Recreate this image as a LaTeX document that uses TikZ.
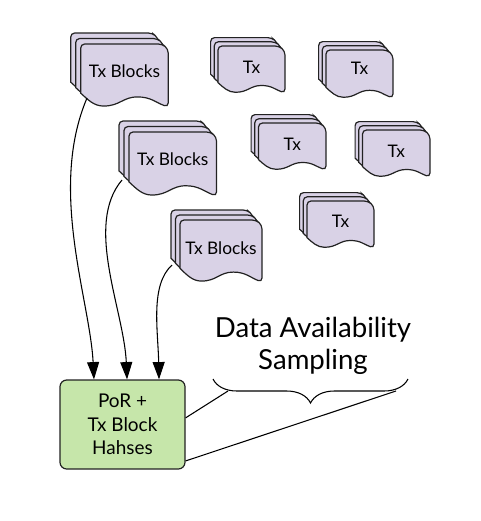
\documentclass[tikz,border=0pt]{standalone}
\usepackage{fontspec}
\setmainfont{Lato}
\usetikzlibrary{arrows.meta,decorations.pathreplacing,calc}
\definecolor{sheetfill}{HTML}{D9D2E6}
\definecolor{boxfill}{HTML}{C6E6AA}
\definecolor{linegray}{HTML}{222222}
\tikzset{
  sheet/.style={draw=linegray, fill=sheetfill, line width=0.9pt, rounded corners=3pt},
  txlabel/.style={font=\fontsize{13}{15}\selectfont, text=black, inner sep=0pt},
  feed/.style={draw=black, line width=0.8pt, -{Triangle[length=13pt,width=9pt]}},
  link/.style={draw=black, line width=0.8pt}
}
% #1 name, #2 #3 front sheet corner, #4 offset, #5 width, #6 height, #7 text, #8 text y
\newcommand{\txstack}[8]{
  \foreach \k in {2,1,0} {
    \begin{scope}[shift={(#2-\k*#4,#3-\k*#4-\k*0.5)}]
      \draw[sheet] (0,0) -- (#5-6,0) -- (#5,5) -- (#5,#6)
        [sharp corners] .. controls (#5*0.86,#6*0.93) and (#5*0.8,#6*0.84) .. (#5*0.65,#6*0.84)
        .. controls (#5*0.48,#6*0.84) and (#5*0.45,#6*0.985) .. (#5*0.26,#6*0.985)
        .. controls (#5*0.15,#6*0.985) and (#5*0.08,#6*0.88) .. (0,#6*0.78)
        [rounded corners=3pt] -- cycle;
    \end{scope}
  }
  \node[txlabel] (#1) at (#2+#5/2,#8) {#7};
}
\begin{document}
\begin{tikzpicture}[x=0.75pt,y=-0.75pt]
  \useasboundingbox (0,0) rectangle (481,521);

  \txstack{blocksa}{80.7}{44}{5}{87.5}{63}{Tx Blocks}{71}
  \txstack{blocksb}{129}{132}{5}{87.5}{64}{Tx Blocks}{159}
  \txstack{blocksc}{180}{220}{4.5}{82}{62}{Tx Blocks}{248}
  \txstack{txa}{218}{46}{3.7}{67}{47}{Tx}{67}
  \txstack{txb}{326}{50}{3.7}{67}{48}{Tx}{68}
  \txstack{txc}{258.5}{123}{3.7}{67.5}{47}{Tx}{144}
  \txstack{txd}{362.5}{130}{3.7}{67.5}{47}{Tx}{151}
  \txstack{txe}{307}{201}{3.7}{67}{47}{Tx}{221}

  \node[draw=linegray, fill=boxfill, line width=0.9pt, rounded corners=5pt, minimum width=93.75pt, minimum height=66.75pt,
    align=center, font=\fontsize{14.2}{17.6}\selectfont, inner sep=0pt] (hashbox) at (122.5,424.5) {PoR +\\Tx Block\\Hahses};

  \node[font=\fontsize{20.7}{24}\selectfont, align=center, inner sep=0pt] (dastext) at (313,346) {Data Availability\\Sampling};

  \coordinate (bracel) at (213,379);
  \coordinate (bracer) at (408,379);
  \coordinate (jointl) at (228,391);
  \coordinate (jointr) at (396,391);
  \draw[draw=black, line width=0.8pt, decorate, decoration={brace, mirror, amplitude=18pt, aspect=0.5}] (bracel) -- (bracer);

  \coordinate (outa) at (87,98);
  \coordinate (outb) at (122,180);
  \coordinate (outc) at (172,265);
  \draw[feed] (outa) .. controls (48,190) and (90,300) .. ([xshift=-21.4pt]hashbox.north);
  \draw[feed] (outb) .. controls (84,225) and (124,310) .. ([xshift=3.4pt]hashbox.north);
  \draw[feed] (outc) .. controls (150,285) and (158,330) .. ([xshift=27.4pt]hashbox.north);

  \draw[link] (hashbox.6) -- (jointl);
  \draw[link] (hashbox.-30) -- (jointr);
\end{tikzpicture}
\end{document}
